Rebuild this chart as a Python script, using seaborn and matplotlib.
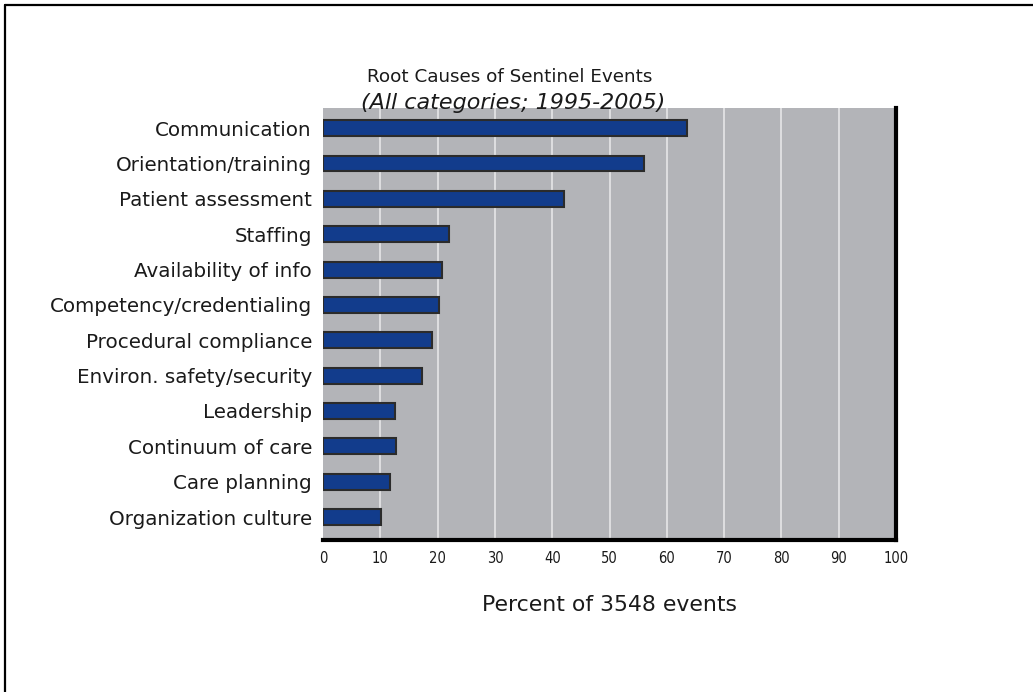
import pandas as pd
import matplotlib.pyplot as plt
import seaborn as sns
from matplotlib.lines import Line2D

# Data
categories = [
    "Communication",
    "Orientation/training",
    "Patient assessment",
    "Staffing",
    "Availability of info",
    "Competency/credentialing",
    "Procedural compliance",
    "Environ. safety/security",
    "Leadership",
    "Continuum of care",
    "Care planning",
    "Organization culture",
]
percents = [63.5, 56.0, 42.1, 22.0, 20.7, 20.2, 19.1, 17.3, 12.5, 12.8, 11.7, 10.2]
x_ticks = list(range(0, 101, 10))

title = "Root Causes of Sentinel Events"
subtitle = "(All categories; 1995-2005)"
x_label = "Percent of 3548 events"

df = pd.DataFrame({"Cause": categories, "Percent": percents})

sns.set_theme(style="white")
plt.rcParams["font.family"] = ["DejaVu Sans"]

fig = plt.figure(figsize=(10.33, 6.92), dpi=100)
ax = fig.add_axes([323 / 1033, 1 - 540 / 692, (896 - 323) / 1033, (540 - 108) / 692])
ax.set_facecolor("#b3b4b8")

sns.barplot(
    data=df,
    x="Percent",
    y="Cause",
    orient="h",
    color="#123c8c",
    saturation=1,
    width=0.45,
    edgecolor="#2b2b2b",
    linewidth=1.5,
    ax=ax,
    zorder=3,
)

ax.set_xlim(0, 100)
ax.set_ylim(11.65, -0.57)
ax.set_xticks(x_ticks)
ax.set_xticklabels([str(t) for t in x_ticks], fontsize=10.5, fontstretch="condensed")
ax.set_ylabel("")
ax.set_xlabel(x_label, fontsize=15.8, labelpad=21, color="#1a1a1a")
ax.tick_params(axis="y", length=0, labelsize=14.3, pad=8, colors="#1a1a1a")
ax.tick_params(axis="x", direction="out", length=6, width=4, color="black", pad=2, colors="#1a1a1a")

for x in x_ticks[1:-1]:
    ax.axvline(x, color="#e6e6e8", linewidth=1.2, zorder=1)

ax.grid(False)
for side in ["top", "left"]:
    ax.spines[side].set_visible(False)
ax.spines["bottom"].set_color("black")
ax.spines["bottom"].set_linewidth(3)
ax.spines["right"].set_color("black")
ax.spines["right"].set_linewidth(3)

fig.text(510 / 1033, 1 - 77 / 692, title, ha="center", va="center", fontsize=13.2, color="#1a1a1a")
fig.text(513 / 1033, 1 - 103 / 692, subtitle, ha="center", va="center", fontsize=16,
         style="italic", color="#1a1a1a")

# page frame: top and left rules
fig.add_artist(Line2D([5 / 1033, 1], [1 - 5 / 692, 1 - 5 / 692], color="black", linewidth=1.6,
                      transform=fig.transFigure))
fig.add_artist(Line2D([5 / 1033, 5 / 1033], [0, 1 - 5 / 692], color="black", linewidth=1.6,
                      transform=fig.transFigure))

fig.savefig("out.png", dpi=100, facecolor="white")
